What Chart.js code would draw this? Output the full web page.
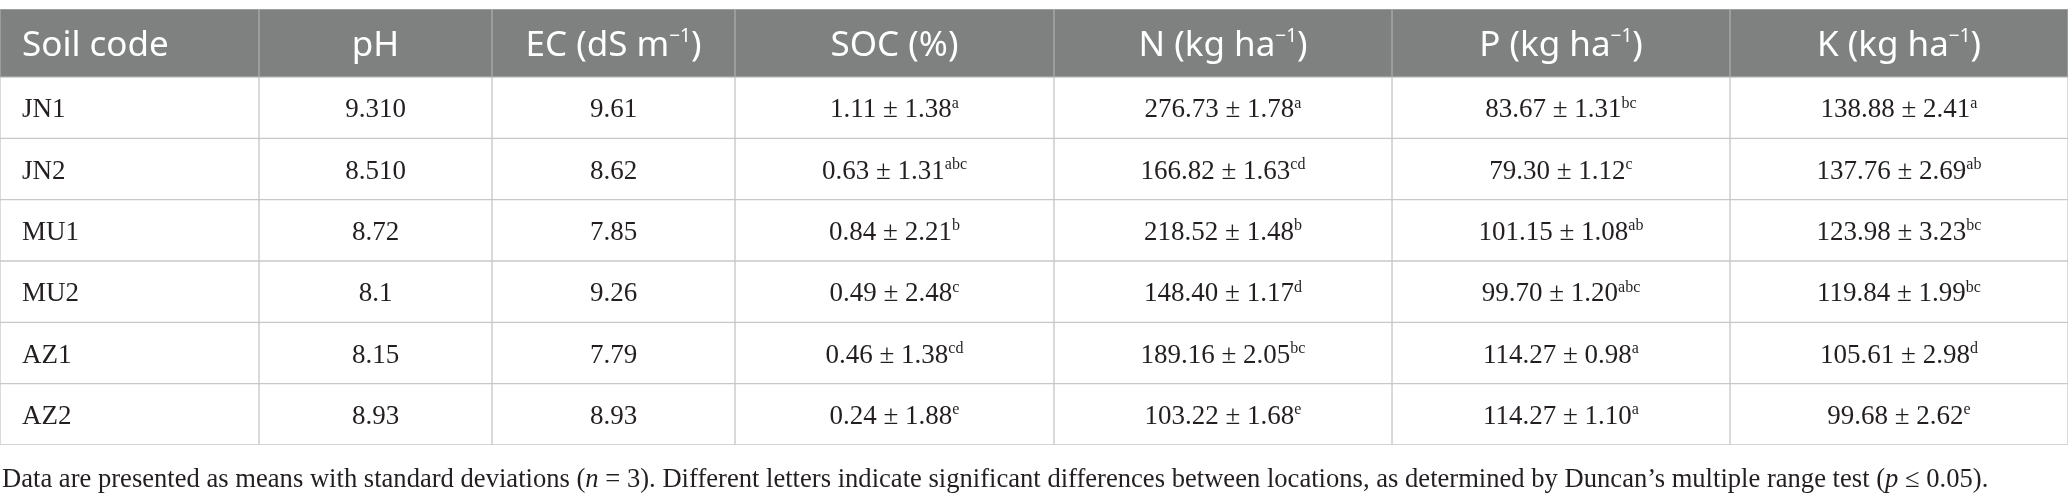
<!DOCTYPE html>
<html>
<head>
<meta charset="utf-8">
<script src="https://cdn.jsdelivr.net/npm/chart.js@4.4.1/dist/chart.umd.min.js"></script>
<style>
  body { margin: 0; background: #ffffff; overflow: hidden; }
  #tabla { display: block; }
</style>
</head>
<body>
<canvas id="tabla" width="2068" height="504"></canvas>
<script>
// datos de la tabla
const codigosSuelo = ["JN1", "JN2", "MU1", "MU2", "AZ1", "AZ2"];
const encabezados = ["Soil code", "pH", "EC (dS m^{−1})", "SOC (%)", "N (kg ha^{−1})", "P (kg ha^{−1})", "K (kg ha^{−1})"];

const pH = ["9.310", "8.510", "8.72", "8.1", "8.15", "8.93"];
const ec = [9.61, 8.62, 7.85, 9.26, 7.79, 8.93];

const socMedia = [1.11, 0.63, 0.84, 0.49, 0.46, 0.24];
const socDE = [1.38, 1.31, 2.21, 2.48, 1.38, 1.88];
const socLetras = ["a", "abc", "b", "c", "cd", "e"];

const nMedia = [276.73, 166.82, 218.52, 148.40, 189.16, 103.22];
const nDE = [1.78, 1.63, 1.48, 1.17, 2.05, 1.68];
const nLetras = ["a", "cd", "b", "d", "bc", "e"];

const pMedia = [83.67, 79.30, 101.15, 99.70, 114.27, 114.27];
const pDE = [1.31, 1.12, 1.08, 1.20, 0.98, 1.10];
const pLetras = ["bc", "c", "ab", "abc", "a", "a"];

const kMedia = [138.88, 137.76, 123.98, 119.84, 105.61, 99.68];
const kDE = [2.41, 2.69, 3.23, 1.99, 2.98, 2.62];
const kLetras = ["a", "ab", "bc", "bc", "d", "e"];

const notaPie = [
  { t: "Data are presented as means with standard deviations (" },
  { t: "n", it: true },
  { t: " = 3). Different letters indicate significant differences between locations, as determined by Duncan\u2019s multiple range test (" },
  { t: "p", it: true },
  { t: " \u2264 0.05)." }
];

// maquetacion: anchos de columna y altos de fila en px
const anchosColumna = [259, 233, 243, 319, 338, 338, 338];
const bordes = [0];
anchosColumna.forEach(a => bordes.push(bordes[bordes.length - 1] + a));
const altoFila = 61.33;
const altoCab = 68;
const cabUnidades = altoCab / altoFila;
const yCab = 0.5 - cabUnidades / 2;

const fuenteCab = "'Noto Sans', 'Open Sans', sans-serif";
const fuenteCuerpo = "'Liberation Serif', 'Times New Roman', serif";

// "EC (dS m^{−1})" -> partes con superindice
function partirTexto(s) {
  const partes = [];
  const re = /\^\{([^}]*)\}/g;
  let ult = 0, m;
  while ((m = re.exec(s)) !== null) {
    if (m.index > ult) partes.push({ t: s.slice(ult, m.index) });
    partes.push({ t: m[1], sup: true });
    ult = re.lastIndex;
  }
  if (ult < s.length) partes.push({ t: s.slice(ult) });
  return partes;
}

function mediaDE(media, de, letra) {
  return [{ t: media.toFixed(2) + " \u00b1 " + de.toFixed(2) }, { t: letra, sup: true }];
}

// celdas del cuerpo, una fila por suelo
const cabecera = encabezados.map(partirTexto);
const cuerpo = [];
for (var i = 0; i < codigosSuelo.length; i++) {
  cuerpo.push([
    [{ t: codigosSuelo[i] }],
    [{ t: pH[i] }],
    [{ t: ec[i].toFixed(2) }],
    mediaDE(socMedia[i], socDE[i], socLetras[i]),
    mediaDE(nMedia[i], nDE[i], nLetras[i]),
    mediaDE(pMedia[i], pDE[i], pLetras[i]),
    mediaDE(kMedia[i], kDE[i], kLetras[i])
  ]);
}

function fuente(tam, familia, italica) {
  return (italica ? "italic " : "") + tam + "px " + familia;
}

function dibujarRico(ctx, partes, x, base, alinear, tam, familia, relSup, subir) {
  const tamSup = Math.round(tam * relSup);
  let total = 0;
  partes.forEach(p => {
    ctx.font = fuente(p.sup ? tamSup : tam, familia, p.it);
    p.ancho = ctx.measureText(p.t).width;
    total += p.ancho;
  });
  let cx = alinear === "center" ? x - total / 2 : x;
  ctx.textAlign = "left";
  ctx.textBaseline = "alphabetic";
  partes.forEach(p => {
    ctx.font = fuente(p.sup ? tamSup : tam, familia, p.it);
    ctx.fillText(p.t, cx, p.sup ? base - tam * subir : base);
    cx += p.ancho;
  });
}

const pluginTabla = {
  id: "textoTabla",
  afterDatasetsDraw(chart) {
    const ctx = chart.ctx;
    ctx.save();
    chart.data.datasets.forEach((ds, d) => {
      const meta = chart.getDatasetMeta(d);
      const esCab = ds.filaCab;
      const col = ds.columna;
      meta.data.forEach((barra, fila) => {
        const izq = Math.min(barra.x, barra.base);
        const der = Math.max(barra.x, barra.base);
        const cy = barra.y;
        const tam = esCab ? 35 : 27;
        const familia = esCab ? fuenteCab : fuenteCuerpo;
        const base = cy + tam * (esCab ? 0.38 : 0.36);
        const partes = esCab ? cabecera[col] : cuerpo[fila][col];
        const relSup = esCab ? 0.55 : 0.6;
        const subir = esCab ? 0.4 : 0.36;
        ctx.fillStyle = esCab ? "#ffffff" : "#231f20";
        if (col === 0) {
          dibujarRico(ctx, partes, izq + 22, base, "left", tam, familia, relSup, subir);
        } else {
          dibujarRico(ctx, partes, (izq + der) / 2, base, "center", tam, familia, relSup, subir);
        }
      });
    });
    // nota al pie
    ctx.fillStyle = "#231f20";
    dibujarRico(ctx, notaPie, 2, chart.chartArea.bottom + 42, "left", 26.6, fuenteCuerpo, 0.6, 0.36);
    ctx.restore();
  }
};

const conjuntos = [];
encabezados.forEach((enc, col) => {
  conjuntos.push({
    label: enc,
    filaCab: true,
    columna: col,
    stack: "tabla",
    data: [{ x: [bordes[col], bordes[col + 1]], y: yCab }],
    backgroundColor: "#7f8080",
    borderColor: "#a9abab",
    borderWidth: 1,
    borderSkipped: false,
    barThickness: altoCab
  });
  conjuntos.push({
    label: enc,
    filaCab: false,
    columna: col,
    stack: "tabla",
    data: codigosSuelo.map((s, f) => ({ x: [bordes[col], bordes[col + 1]], y: f + 1 })),
    backgroundColor: "#ffffff",
    borderColor: "#c8c8c8",
    borderWidth: 1,
    borderSkipped: false,
    barThickness: altoFila
  });
});

const grafico = new Chart(document.getElementById("tabla"), {
  type: "bar",
  data: {
    datasets: conjuntos
  },
  options: {
    indexAxis: "y",
    responsive: false,
    animation: false,
    devicePixelRatio: 1,
    events: [],
    layout: { padding: { top: 9, bottom: 59, left: 0, right: 0 }, autoPadding: false },
    plugins: {
      legend: { display: false },
      tooltip: { enabled: false },
      title: { display: false }
    },
    scales: {
      x: { type: "linear", min: 0, max: bordes[bordes.length - 1], stacked: false, display: false, offset: false, grace: 0 },
      y: {
        type: "linear", reverse: true, min: 0.5 - cabUnidades, max: codigosSuelo.length + 0.5,
        stacked: true, display: false, offset: false, grace: 0, grid: { offset: false }
      }
    }
  },
  plugins: [pluginTabla]
});
</script>
</body>
</html>
